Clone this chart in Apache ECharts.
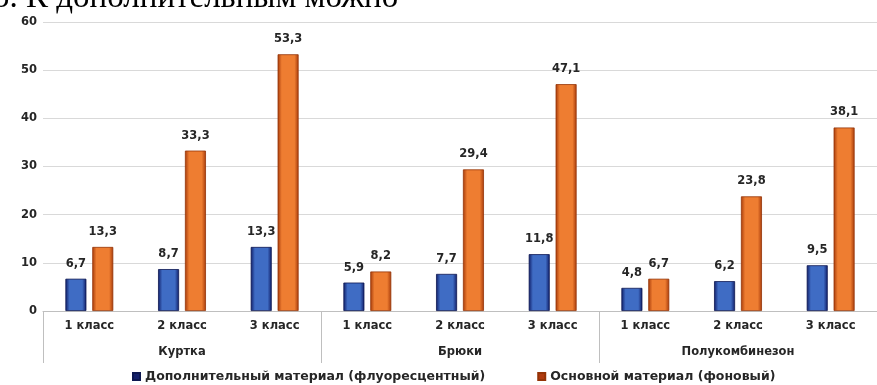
<!DOCTYPE html>
<html>
<head>
<meta charset="utf-8">
<script src="https://cdn.jsdelivr.net/npm/echarts@6/dist/echarts.min.js"></script>
<style>
  html, body { margin: 0; padding: 0; background: #fff; }
  #chart { width: 877px; height: 385px; }
</style>
</head>
<body>
<div id="chart"></div>
<script>
// Classes within each garment group
const classLabels = ['1 класс', '2 класс', '3 класс', '1 класс', '2 класс', '3 класс', '1 класс', '2 класс', '3 класс'];
// Garment groups (one per three classes)
const garmentGroups = ['Куртка', 'Брюки', 'Полукомбинезон'];
// Series values (%)
const extraMaterial = [6.7, 8.7, 13.3, 5.9, 7.7, 11.8, 4.8, 6.2, 9.5];
const mainMaterial = [13.3, 33.3, 53.3, 8.2, 29.4, 47.1, 6.7, 23.8, 38.1];
const seriesNames = ['Дополнительный материал (флуоресцентный)', 'Основной материал (фоновый)'];
const headingText = 'о. К дополнительным можно';

const font = '"DejaVu Sans", Verdana, sans-serif';
const textColor = '#262626';

function barGradient(edge, mid) {
  return new echarts.graphic.LinearGradient(0, 0, 1, 0, [
    { offset: 0, color: edge },
    { offset: 0.2, color: mid },
    { offset: 0.5, color: mid },
    { offset: 0.8, color: mid },
    { offset: 1, color: edge }
  ]);
}

const labelStyle = {
  show: true,
  position: 'top',
  distance: 9,
  fontFamily: font,
  fontSize: 11.5,
  fontWeight: 'bold',
  color: textColor,
  formatter: p => String(p.value).replace('.', ',')
};

const axisText = { fontFamily: font, fontSize: 11.5, fontWeight: 'bold', color: textColor };

const chart = echarts.init(document.getElementById('chart'), null, { renderer: 'canvas' });
chart.setOption({
  animation: false,
  backgroundColor: '#fff',
  graphic: [{
    type: 'text',
    left: -7,
    top: -18,
    style: {
      text: headingText,
      font: '33px "Liberation Serif", "DejaVu Serif", serif',
      fill: '#000'
    }
  }],
  legend: {
    top: 365,
    left: 127,
    itemWidth: 7,
    itemHeight: 7,
    itemGap: 52,
    icon: 'rect',
    textStyle: { fontFamily: font, fontSize: 12.5, fontWeight: 'bold', color: textColor },
    data: [
      { name: seriesNames[0], itemStyle: { color: '#14206a' } },
      { name: seriesNames[1], itemStyle: { color: '#b03a0e' } }
    ]
  },
  grid: { left: 43, right: -12, top: 22, bottom: 74, containLabel: false },
  xAxis: [{
    type: 'category',
    data: classLabels,
    position: 'bottom',
    axisLine: { show: true, lineStyle: { color: '#bfbfbf', width: 1 } },
    axisTick: { show: false },
    axisLabel: Object.assign({ margin: 9, interval: 0 }, axisText)
  }, {
    type: 'category',
    data: garmentGroups,
    position: 'bottom',
    axisLine: { show: false },
    axisTick: { show: true, length: 52, lineStyle: { color: '#bfbfbf', width: 1 } },
    axisLabel: Object.assign({ margin: 35, interval: 0 }, axisText)
  }],
  yAxis: {
    type: 'value',
    min: 0,
    max: 60,
    interval: 10,
    axisLine: { show: false },
    axisTick: { show: false },
    splitLine: { lineStyle: { color: '#d9d9d9', width: 1 } },
    axisLabel: Object.assign({ margin: 6 }, axisText)
  },
  series: [{
    name: seriesNames[0],
    type: 'bar',
    xAxisIndex: 0,
    data: extraMaterial,
    barWidth: 21,
    barGap: '28%',
    itemStyle: { color: barGradient('#0f1c66', '#3f6cc4'), borderColor: '#0d1750', borderWidth: 0.8 },
    label: labelStyle
  }, {
    name: seriesNames[1],
    type: 'bar',
    xAxisIndex: 0,
    data: mainMaterial,
    barWidth: 21,
    barGap: '28%',
    itemStyle: { color: barGradient('#a63a0a', '#ee7d31'), borderColor: '#943306', borderWidth: 0.8 },
    label: labelStyle
  }]
});
</script>
</body>
</html>
